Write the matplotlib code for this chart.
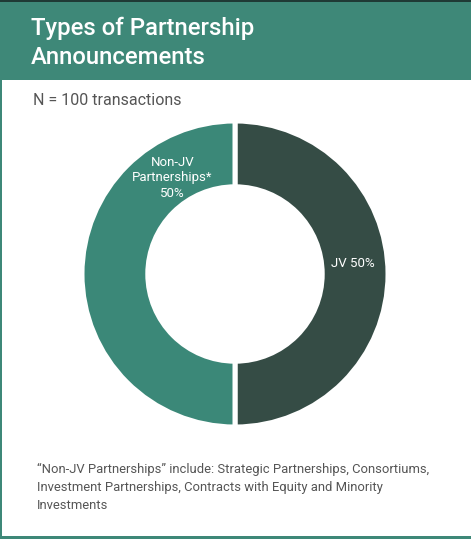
import matplotlib.pyplot as plt
from matplotlib.patches import Rectangle

plt.rcParams['font.family'] = ['Roboto', 'DejaVu Sans']

# data
categories = ['JV', 'Non-JV Partnerships*']
shares = [50, 50]
colors = ['#354c45', '#3b8878']
title_lines = ['Types of Partnership', 'Announcements']
subtitle = 'N = 100 transactions'
footnote = ['\u201cNon-JV Partnerships\u201d include: Strategic Partnerships, Consortiums,',
            'Investment Partnerships, Contracts with Equity and Minority',
            'Investments']

W, H = 471, 539
fig = plt.figure(figsize=(W / 100, H / 100), dpi=100)
fig.patch.set_facecolor('white')

def px(x, y):
    # pixel (from top-left) to figure fraction
    return x / W, 1 - y / H

# header band
fig.patches.append(Rectangle((0, 1 - 80 / H), 1, 80 / H, transform=fig.transFigure,
                             facecolor='#3e8878', edgecolor='none', zorder=0))
fig.patches.append(Rectangle((0, 1 - 2 / H), 1, 2 / H, transform=fig.transFigure,
                             facecolor='#1f3a35', edgecolor='none', zorder=1))
# left and bottom border
fig.patches.append(Rectangle((0, 0), 2 / W, 1 - 80 / H, transform=fig.transFigure,
                             facecolor='#3e8878', edgecolor='none', zorder=1))
fig.patches.append(Rectangle((0, 0), 1, 3 / H, transform=fig.transFigure,
                             facecolor='#3e8878', edgecolor='none', zorder=1))

fig.text(*px(31, 35), title_lines[0], color='white', fontsize=17.2, weight='medium',
         va='baseline')
fig.text(*px(31, 64), title_lines[1], color='white', fontsize=17.2, weight='medium',
         va='baseline')
fig.text(*px(33, 105), subtitle, color='#555555', fontsize=11.5, va='baseline')
for i, line in enumerate(footnote):
    fig.text(*px(37, 473 + i * 18), line, color='#555555', fontsize=9.4, va='baseline')

# donut
cx, cy, r = 235, 274, 153
ax = fig.add_axes([(cx - r) / W, (H - cy - r) / H, 2 * r / W, 2 * r / H])
ax.pie(shares, colors=colors, startangle=90, counterclock=False, radius=1,
       wedgeprops=dict(width=0.43, edgecolor='white', linewidth=3.6))
ax.set_xlim(-1, 1)
ax.set_ylim(-1, 1)
ax.axis('off')

ax.text(0.77, 0.07, f'{categories[0]} {shares[0]}%', color='white', fontsize=9.5,
        ha='center', va='center')
ax.text(-0.41, 0.63, f'Non-JV\nPartnerships*\n{shares[1]}%', color='white', fontsize=9.5,
        ha='center', va='center', linespacing=1.25)

fig.savefig('out.png', dpi=100)
